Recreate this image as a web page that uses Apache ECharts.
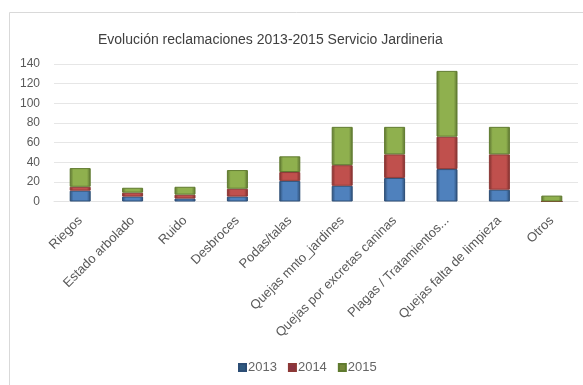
<!DOCTYPE html>
<html>
<head>
<meta charset="utf-8">
<script src="https://cdn.jsdelivr.net/npm/echarts@6/dist/echarts.min.js"></script>
<style>
html,body{margin:0;padding:0;background:#fff;}
#c{width:583px;height:385px;}
</style>
</head>
<body>
<div id="c"></div>
<script>
const categories = ["Riegos","Estado arbolado","Ruido","Desbroces","Podas/talas","Quejas mnto_jardines","Quejas por excretas caninas","Plagas / Tratamientos...","Quejas falta de limpieza","Otros"];
const values2013 = [11, 5, 3, 5, 21, 16, 24, 33, 12, 0];
const values2014 = [4, 4, 4, 8, 9, 21, 24, 33, 36, 0];
const values2015 = [19, 5, 8, 19, 16, 39, 28, 67, 28, 6];
const yTicks = [0, 20, 40, 60, 80, 100, 120, 140];

function bevel(mid, edge) {
  return {
    type: 'linear', x: 0, y: 0, x2: 1, y2: 0,
    colorStops: [
      {offset: 0, color: edge},
      {offset: 0.18, color: mid},
      {offset: 0.82, color: mid},
      {offset: 1, color: edge}
    ]
  };
}

const chart = echarts.init(document.getElementById('c'), null, {renderer: 'canvas'});
const fontFam = '"Liberation Sans", "DejaVu Sans", sans-serif';
const mk = (name, data, mid, edge, border) => ({
  name, type: 'bar', stack: 'total', data, barWidth: 21,
  itemStyle: {color: bevel(mid, edge), borderColor: border, borderWidth: 1},
  emphasis: {disabled: true}
});

chart.setOption({
  animation: false,
  backgroundColor: '#fff',
  graphic: [{
    type: 'rect', left: 7, top: 10,
    shape: {width: 590, height: 390},
    style: {fill: 'none', stroke: '#d9d9d9', lineWidth: 1},
    silent: true
  }],
  title: {
    text: 'Evolución reclamaciones 2013-2015 Servicio Jardineria',
    left: 93, top: 28,
    textStyle: {fontFamily: fontFam, fontSize: 14, fontWeight: 'normal', color: '#404040'}
  },
  legend: {
    bottom: 6, left: 233,
    itemWidth: 7, itemHeight: 7, itemGap: 11,
    icon: 'rect',
    textStyle: {fontFamily: fontFam, fontSize: 13, color: '#666666', padding: [0,0,0,-3]},
    data: [
      {name: '2013', itemStyle: {color: '#2f5a80'}},
      {name: '2014', itemStyle: {color: '#8a3342'}},
      {name: '2015', itemStyle: {color: '#75883a'}}
    ]
  },
  grid: {left: 54, right: 5, top: 64, bottom: 183.5, containLabel: false},
  xAxis: {
    type: 'category', data: categories,
    axisLine: {show: true, lineStyle: {color: '#e3e3e3'}},
    axisTick: {show: false},
    axisLabel: {rotate: 45, interval: 0, fontFamily: fontFam, fontSize: 13, color: '#595959', margin: 17}
  },
  yAxis: {
    type: 'value', min: 0, max: 140, interval: 20,
    axisLine: {show: false}, axisTick: {show: false},
    axisLabel: {fontFamily: fontFam, fontSize: 12, color: '#595959', margin: 14,
      formatter: v => yTicks.includes(v) ? String(v) : ''},
    splitLine: {lineStyle: {color: '#e6e6e6'}}
  },
  series: [
    mk('2013', values2013, '#4f81bd', '#2c4d75', '#2c4d75'),
    mk('2014', values2014, '#c0504d', '#7a2d2b', '#8c3836'),
    mk('2015', values2015, '#8fb04e', '#5a7030', '#5f7a2e')
  ]
});
</script>
</body>
</html>
